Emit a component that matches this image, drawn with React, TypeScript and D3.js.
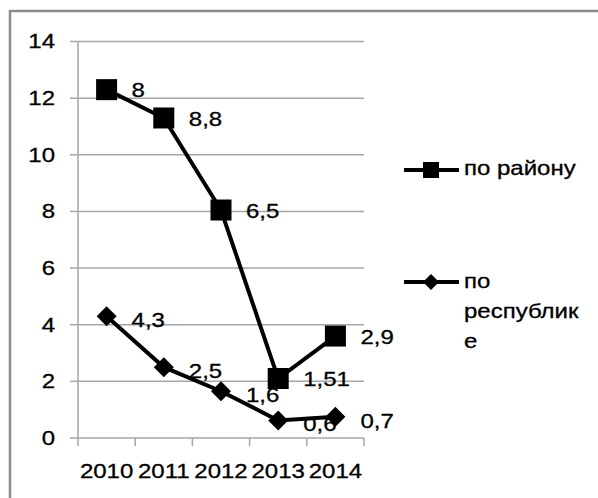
import React from "react";
import * as d3 from "d3";

const years = ["2010", "2011", "2012", "2013", "2014"];
const rayonValues = [12.3, 11.3, 8.05, 2.1, 3.6];
const rayonLabels = ["8", "8,8", "6,5", "1,51", "2,9"];
const respValues = [4.3, 2.5, 1.65, 0.62, 0.75];
const respLabels = ["4,3", "2,5", "1,6", "0,6", "0,7"];
const yTicks = [0, 2, 4, 6, 8, 10, 12, 14];
const legendRayon = ["по району"];
const legendResp = ["по", "республик", "е"];

const FONT = "Liberation Sans, Arial, sans-serif";
const FS = 20;
const SX = 1.2;

function T({ x, y, children, anchor = "start" }: { x: number; y: number; children: React.ReactNode; anchor?: string }) {
  return (
    <g transform={`translate(${x},${y}) scale(${SX},1)`}>
      <text x={0} y={0} textAnchor={anchor as any} dominantBaseline="central" fontFamily={FONT} fontSize={FS} fill="#000" stroke="#000" strokeWidth={0.3}>
        {children}
      </text>
    </g>
  );
}

export default function App() {
  const W = 598, H = 498;
  const x = d3.scaleBand<string>().domain(years).range([78, 364]);
  const y = d3.scaleLinear().domain([0, 14]).range([438, 41.5]);
  const cx = (d: string) => (x(d) as number) + x.bandwidth() / 2;
  const line = d3.line<number>().x((_, i) => cx(years[i])).y((v) => y(v));
  const sq = 21;
  const dm = 10;
  const diamond = (px: number, py: number, r: number) =>
    `M${px},${py - r}L${px + r},${py}L${px},${py + r}L${px - r},${py}Z`;

  return (
    <svg width={W} height={H} style={{ position: "absolute", left: 0, top: 0, background: "#fff" }}>
      <rect x={0} y={0} width={W} height={H} fill="#fff" />
      {/* outer frame */}
      <line x1={10} y1={11} x2={W} y2={11} stroke="#8c8c8c" strokeWidth={2.5} />
      <line x1={10} y1={10} x2={10} y2={H} stroke="#8c8c8c" strokeWidth={2.5} />
      {/* gridlines */}
      {yTicks.map((t) => (
        <g key={t}>
          {t > 0 && <line x1={78} x2={364} y1={y(t)} y2={y(t)} stroke="#a6a6a6" strokeWidth={1.5} />}
          <line x1={70} x2={78} y1={y(t)} y2={y(t)} stroke="#a6a6a6" strokeWidth={1.5} />
          <T x={55} y={y(t)} anchor="end">{String(t)}</T>
        </g>
      ))}
      <line x1={78} x2={78} y1={y(14)} y2={y(0)} stroke="#a6a6a6" strokeWidth={1.5} />
      <line x1={78} x2={364} y1={y(0)} y2={y(0)} stroke="#a6a6a6" strokeWidth={1.5} />
      {[...years.map((d) => x(d) as number), 364].map((px, i) => (
        <line key={i} x1={px} x2={px} y1={y(0)} y2={y(0) + 8} stroke="#a6a6a6" strokeWidth={1.5} />
      ))}
      {years.map((d) => (
        <T key={d} x={cx(d)} y={471} anchor="middle">{d}</T>
      ))}
      {/* series */}
      <path d={line(rayonValues) as string} fill="none" stroke="#000" strokeWidth={4} />
      <path d={line(respValues) as string} fill="none" stroke="#000" strokeWidth={4} />
      {rayonValues.map((v, i) => (
        <rect key={i} x={cx(years[i]) - sq / 2} y={y(v) - sq / 2} width={sq} height={sq} fill="#000" />
      ))}
      {respValues.map((v, i) => (
        <path key={i} d={diamond(cx(years[i]), y(v), dm)} fill="#000" />
      ))}
      {rayonValues.map((v, i) => (
        <T key={i} x={cx(years[i]) + 25} y={y(v) + 1}>{rayonLabels[i]}</T>
      ))}
      {respValues.map((v, i) => (
        <T key={i} x={cx(years[i]) + 25} y={y(v) + 4}>{respLabels[i]}</T>
      ))}
      {/* legend */}
      <line x1={404} x2={459} y1={170} y2={170} stroke="#000" strokeWidth={4} />
      <rect x={431 - 8} y={170 - 8} width={16} height={16} fill="#000" />
      {legendRayon.map((s, i) => (
        <T key={i} x={464} y={168 + i * 29}>{s}</T>
      ))}
      <line x1={404} x2={459} y1={282} y2={282} stroke="#000" strokeWidth={4} />
      <path d={diamond(431, 282, 8)} fill="#000" />
      {legendResp.map((s, i) => (
        <T key={i} x={464} y={281 + i * 30}>{s}</T>
      ))}
    </svg>
  );
}
